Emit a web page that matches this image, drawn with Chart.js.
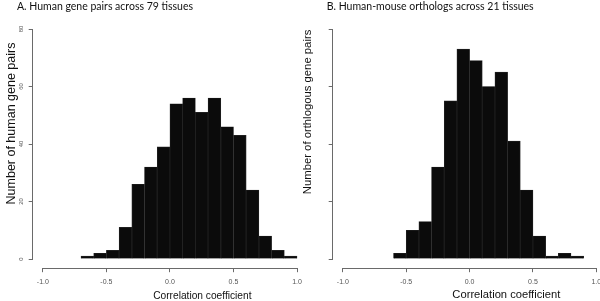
<!DOCTYPE html>
<html><head><meta charset="utf-8">
<script src="https://cdn.jsdelivr.net/npm/chart.js@4.4.1/dist/chart.umd.min.js"></script>
<style>
html,body{margin:0;padding:0;background:#fff;}
#wrap{position:relative;width:600px;height:301px;overflow:hidden;background:#fff;}
#wrap canvas{position:absolute;top:0;}
</style></head><body>
<div id="wrap">
<canvas id="chartA" width="372" height="301" style="left:0px;width:372px;height:301px"></canvas>
<canvas id="chartB" width="380" height="301" style="left:300px;width:380px;height:301px"></canvas>
</div>
<script>
// ---- data ----
const binCentersA = [-0.65,-0.55,-0.45,-0.35,-0.25,-0.15,-0.05,0.05,0.15,0.25,0.35,0.45,0.55,0.65,0.75,0.85,0.95];
const countsA     = [1,2,3,11,26,32,39,54,56,51,56,46,43,24,8,3,1];
const binCentersB = [-0.55,-0.45,-0.35,-0.25,-0.15,-0.05,0.05,0.15,0.25,0.35,0.45,0.55,0.65,0.75,0.85];
const countsB     = [2,10,13,32,55,73,69,60,65,41,24,8,1,2,1];
const xTickValues = [-1, -0.5, 0, 0.5, 1];
const xTickLabels = ['-1.0','-0.5','0.0','0.5','1.0'];
const yTickValues = [0, 20, 40, 60, 80];
const yTickLabels = ['0','20','40','60','80'];
const titleA = 'A. Human gene pairs across 79 tissues';
const titleB = 'B. Human-mouse orthologs across 21 tissues';
const yTitleA = 'Number of human gene pairs';
const yTitleB = 'Number of orthlogous gene pairs';
const xTitle = 'Correlation coefficient';

const AXIS_COLOR = '#6a6a6a';

function alignPx(v, w) { const h = w / 2; return Math.round(v - h) + h; }

// R-style axis lines (only between first and last tick) and rotated y title
const rAxes = {
  id: 'rAxes',
  afterDraw(chart, args, opts) {
    const {ctx, chartArea, scales} = chart;
    const x = scales.x, y = scales.y;
    ctx.save();
    ctx.strokeStyle = AXIS_COLOR;
    ctx.lineWidth = 1;
    ctx.beginPath();
    const yb = alignPx(chartArea.bottom, 1);
    ctx.moveTo(x.getPixelForValue(xTickValues[0]), yb);
    ctx.lineTo(x.getPixelForValue(xTickValues[xTickValues.length - 1]), yb);
    const xl = alignPx(chartArea.left, 1);
    ctx.moveTo(xl, y.getPixelForValue(yTickValues[0]));
    ctx.lineTo(xl, y.getPixelForValue(yTickValues[yTickValues.length - 1]));
    ctx.stroke();
    // y axis title
    ctx.translate(chartArea.left + opts.dx, chartArea.top + opts.fy * (chartArea.bottom - chartArea.top));
    ctx.rotate(-Math.PI / 2);
    ctx.fillStyle = '#111';
    ctx.font = opts.size + 'px "Liberation Sans", Arial, sans-serif';
    ctx.textAlign = 'center';
    ctx.textBaseline = 'middle';
    ctx.fillText(opts.text, 0, 0);
    ctx.restore();
  }
};

function makeChart(id, centers, counts, cfg) {
  return new Chart(document.getElementById(id), {
    type: 'bar',
    data: {
      datasets: [{
        data: centers.map((c, i) => ({x: c, y: counts[i]})),
        backgroundColor: '#0b0b0b',
        borderColor: '#262626',
        borderWidth: 0.7,
        borderSkipped: 'start',
        barPercentage: 1,
        categoryPercentage: 1
      }]
    },
    options: {
      responsive: false,
      animation: false,
      devicePixelRatio: 1,
      layout: {padding: {left: cfg.padLeft, top: 0, right: 0, bottom: 0}},
      plugins: {
        legend: {display: false},
        tooltip: {enabled: false},
        title: {
          display: true, text: cfg.title, align: 'start', color: '#111',
          font: {family: 'Lato', size: 10.5, lineHeight: 1.2, weight: 'normal'},
          padding: {top: 0, bottom: 7.2}
        },
        rAxes: {dx: cfg.yTitleDx, fy: cfg.yTitleFy, text: cfg.yTitle, size: cfg.yTitleSize}
      },
      scales: {
        x: {
          type: 'linear', min: -1.08, max: cfg.xMax, offset: false,
          afterBuildTicks: s => { s.ticks = xTickValues.map(v => ({value: v})); },
          afterFit: s => { s.height = 32.8; },
          grid: {display: true, drawOnChartArea: false, drawTicks: true, tickLength: 4, color: AXIS_COLOR, offset: false},
          border: {display: false},
          ticks: {
            color: '#555', padding: 5.5, maxRotation: 0, minRotation: 0,
            font: {family: 'Liberation Sans', size: 7},
            callback: (v) => { const i = xTickValues.indexOf(v); return i >= 0 ? xTickLabels[i] : ''; }
          },
          title: {display: true, text: xTitle, color: '#111',
            font: {family: 'Liberation Sans', size: cfg.xTitleSize, lineHeight: 1}, padding: {top: 0, bottom: 0}}
        },
        y: {
          type: 'linear', min: -3.2, max: 83.2,
          afterBuildTicks: s => { s.ticks = yTickValues.map(v => ({value: v})); },
          afterFit: s => { s.width = cfg.yWidth; },
          grid: {display: true, drawOnChartArea: false, drawTicks: true, tickLength: 4, color: AXIS_COLOR},
          border: {display: false},
          ticks: {
            color: '#555', padding: cfg.yTickPad, minRotation: 90, maxRotation: 90, crossAlign: 'center',
            font: {family: 'Liberation Sans', size: 6},
            callback: (v) => { const i = yTickValues.indexOf(v); return i >= 0 ? yTickLabels[i] : ''; }
          }
        }
      }
    },
    plugins: [rAxes]
  });
}

makeChart('chartA', binCentersA, countsA, {
  title: titleA, padLeft: 17, yWidth: 15.7, xMax: 1.59, yTickPad: 4.1,
  yTitle: yTitleA, yTitleDx: -20.7, yTitleFy: 0.4175, yTitleSize: 12.5, xTitleSize: 10.2
});
makeChart('chartB', binCentersB, countsB, {
  title: titleB, padLeft: 26.7, yWidth: 6, xMax: 1.66, yTickPad: 9,
  yTitle: yTitleB, yTitleDx: -25.2, yTitleFy: 0.371, yTitleSize: 11.3, xTitleSize: 11.2
});
</script>
</body></html>
